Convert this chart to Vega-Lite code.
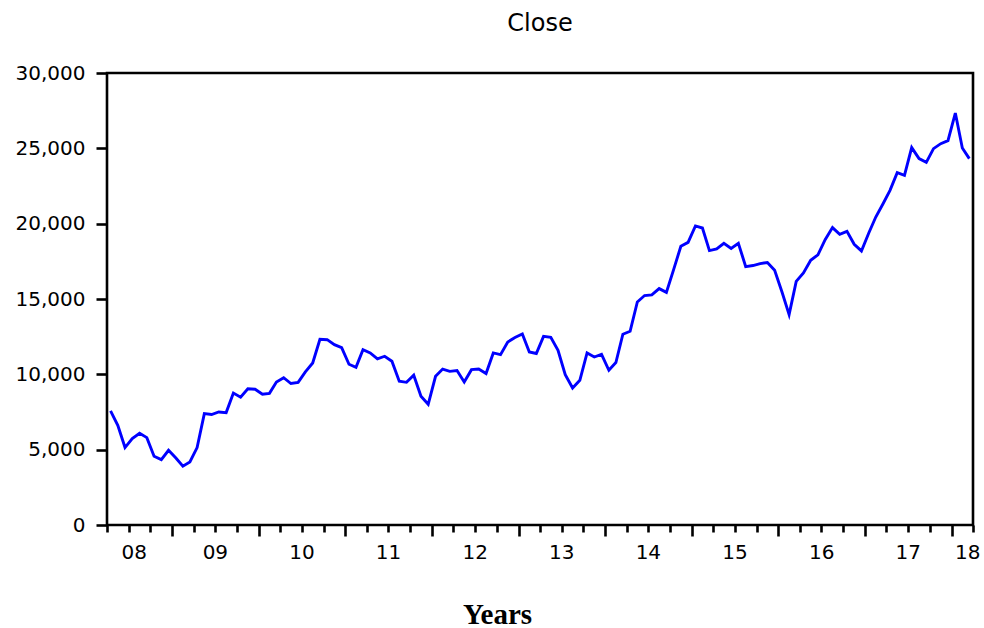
{
  "$schema": "https://vega.github.io/schema/vega-lite/v6.json",
  "width": 866,
  "height": 452,
  "autosize": "none",
  "padding": {"left": 107, "top": 73, "right": 11, "bottom": 103},
  "background": "white",
  "config": {
    "view": {"stroke": "black", "strokeWidth": 2.6},
    "axisY": {
      "format": ",.0f",
      "domain": false,
      "grid": false,
      "tickColor": "black",
      "tickWidth": 2.6,
      "tickSize": 11,
      "labelFont": "DejaVu Sans",
      "labelFontSize": 20,
      "labelColor": "black",
      "labelPadding": 11
    }
  },
  "title": {
    "text": "Close",
    "font": "DejaVu Sans",
    "fontSize": 24,
    "fontWeight": "normal",
    "color": "black",
    "anchor": "middle",
    "offset": 27
  },
  "datasets": {
    "close": [
      {"date": "2008-04", "close": 7570}, {"date": "2008-05", "close": 6620}, {"date": "2008-06", "close": 5140},
      {"date": "2008-07", "close": 5730}, {"date": "2008-08", "close": 6090}, {"date": "2008-09", "close": 5800},
      {"date": "2008-10", "close": 4560}, {"date": "2008-11", "close": 4340}, {"date": "2008-12", "close": 4960},
      {"date": "2009-01", "close": 4450}, {"date": "2009-02", "close": 3900}, {"date": "2009-03", "close": 4180},
      {"date": "2009-04", "close": 5140}, {"date": "2009-05", "close": 7390}, {"date": "2009-06", "close": 7330},
      {"date": "2009-07", "close": 7500}, {"date": "2009-08", "close": 7460}, {"date": "2009-09", "close": 8760},
      {"date": "2009-10", "close": 8480}, {"date": "2009-11", "close": 9040}, {"date": "2009-12", "close": 9010},
      {"date": "2010-01", "close": 8680}, {"date": "2010-02", "close": 8740}, {"date": "2010-03", "close": 9490},
      {"date": "2010-04", "close": 9780}, {"date": "2010-05", "close": 9390}, {"date": "2010-06", "close": 9470},
      {"date": "2010-07", "close": 10160}, {"date": "2010-08", "close": 10750}, {"date": "2010-09", "close": 12330},
      {"date": "2010-10", "close": 12300}, {"date": "2010-11", "close": 11970}, {"date": "2010-12", "close": 11770},
      {"date": "2011-01", "close": 10670}, {"date": "2011-02", "close": 10470}, {"date": "2011-03", "close": 11640},
      {"date": "2011-04", "close": 11420}, {"date": "2011-05", "close": 11020}, {"date": "2011-06", "close": 11200},
      {"date": "2011-07", "close": 10870}, {"date": "2011-08", "close": 9540}, {"date": "2011-09", "close": 9470},
      {"date": "2011-10", "close": 9940}, {"date": "2011-11", "close": 8540}, {"date": "2011-12", "close": 8010},
      {"date": "2012-01", "close": 9870}, {"date": "2012-02", "close": 10350}, {"date": "2012-03", "close": 10200},
      {"date": "2012-04", "close": 10250}, {"date": "2012-05", "close": 9490}, {"date": "2012-06", "close": 10310},
      {"date": "2012-07", "close": 10350}, {"date": "2012-08", "close": 10050}, {"date": "2012-09", "close": 11420},
      {"date": "2012-10", "close": 11310}, {"date": "2012-11", "close": 12150}, {"date": "2012-12", "close": 12440},
      {"date": "2013-01", "close": 12680}, {"date": "2013-02", "close": 11480}, {"date": "2013-03", "close": 11380},
      {"date": "2013-04", "close": 12520}, {"date": "2013-05", "close": 12460}, {"date": "2013-06", "close": 11600},
      {"date": "2013-07", "close": 9980}, {"date": "2013-08", "close": 9090}, {"date": "2013-09", "close": 9600},
      {"date": "2013-10", "close": 11420}, {"date": "2013-11", "close": 11150}, {"date": "2013-12", "close": 11330},
      {"date": "2014-01", "close": 10270}, {"date": "2014-02", "close": 10780}, {"date": "2014-03", "close": 12660},
      {"date": "2014-04", "close": 12860}, {"date": "2014-05", "close": 14800}, {"date": "2014-06", "close": 15230},
      {"date": "2014-07", "close": 15270}, {"date": "2014-08", "close": 15690}, {"date": "2014-09", "close": 15440},
      {"date": "2014-10", "close": 16950}, {"date": "2014-11", "close": 18500}, {"date": "2014-12", "close": 18760},
      {"date": "2015-01", "close": 19850}, {"date": "2015-02", "close": 19710}, {"date": "2015-03", "close": 18210},
      {"date": "2015-04", "close": 18320}, {"date": "2015-05", "close": 18700}, {"date": "2015-06", "close": 18350},
      {"date": "2015-07", "close": 18700}, {"date": "2015-08", "close": 17150}, {"date": "2015-09", "close": 17220},
      {"date": "2015-10", "close": 17350}, {"date": "2015-11", "close": 17420}, {"date": "2015-12", "close": 16900},
      {"date": "2016-01", "close": 15460}, {"date": "2016-02", "close": 13960}, {"date": "2016-03", "close": 16170},
      {"date": "2016-04", "close": 16730}, {"date": "2016-05", "close": 17570}, {"date": "2016-06", "close": 17930},
      {"date": "2016-07", "close": 18940}, {"date": "2016-08", "close": 19740}, {"date": "2016-09", "close": 19290},
      {"date": "2016-10", "close": 19490}, {"date": "2016-11", "close": 18630}, {"date": "2016-12", "close": 18190},
      {"date": "2017-01", "close": 19380}, {"date": "2017-02", "close": 20440}, {"date": "2017-03", "close": 21290},
      {"date": "2017-04", "close": 22210}, {"date": "2017-05", "close": 23390}, {"date": "2017-06", "close": 23210},
      {"date": "2017-07", "close": 25050}, {"date": "2017-08", "close": 24320}, {"date": "2017-09", "close": 24070},
      {"date": "2017-10", "close": 24980}, {"date": "2017-11", "close": 25310}, {"date": "2017-12", "close": 25510},
      {"date": "2018-01", "close": 27340}, {"date": "2018-02", "close": 25020}, {"date": "2018-03", "close": 24320}
    ],
    "years": [
      {"label": "08", "at": "2008-07-25"},
      {"label": "09", "at": "2009-07-02"},
      {"label": "10", "at": "2010-07-02"},
      {"label": "11", "at": "2011-07-02"},
      {"label": "12", "at": "2012-07-02"},
      {"label": "13", "at": "2013-07-02"},
      {"label": "14", "at": "2014-07-02"},
      {"label": "15", "at": "2015-07-02"},
      {"label": "16", "at": "2016-07-02"},
      {"label": "17", "at": "2017-07-02"},
      {"label": "18", "at": "2018-03-10"}
    ]
  },
  "layer": [
    {
      "data": {"name": "close"},
      "mark": {"type": "line", "color": "#0000ff", "strokeWidth": 2.9},
      "encoding": {
        "x": {
          "field": "date",
          "type": "temporal",
          "timeUnit": "utcyearmonth",
          "bandPosition": 0.5,
          "title": "Years",
          "scale": {
            "type": "utc",
            "nice": false,
            "domain": [
              {"year": 2008, "month": 4, "date": 1, "utc": true},
              {"year": 2018, "month": 4, "date": 1, "utc": true}
            ]
          },
          "axis": {
            "tickCount": {"interval": "month", "step": 3},
            "labels": false,
            "domain": false,
            "grid": false,
            "tickColor": "black",
            "tickWidth": 2.6,
            "tickSize": {"condition": {"test": "utcmonth(datum.value) === 0", "value": 11}, "value": 7},
            "titleFont": "Liberation Serif",
            "titleFontSize": 29,
            "titleFontWeight": "bold",
            "titleColor": "black",
            "titleAlign": "center",
            "titleBaseline": "alphabetic",
            "titleX": 390,
            "titleY": 98
          }
        },
        "y": {
          "field": "close",
          "type": "quantitative",
          "title": null,
          "scale": {"domain": [0, 30000], "nice": false},
          "axis": {
            "format": ",.0f",
            "values": [0, 5000, 10000, 15000, 20000, 25000, 30000]
          }
        }
      }
    },
    {
      "data": {"name": "years"},
      "mark": {
        "type": "text",
        "font": "DejaVu Sans",
        "fontSize": 20,
        "color": "black",
        "align": "center",
        "baseline": "middle",
        "dy": 28
      },
      "encoding": {
        "x": {"field": "at", "type": "temporal", "title": "Years", "scale": {"type": "utc"}},
        "y": {"datum": 0, "type": "quantitative", "title": null, "axis": {"format": ",.0f", "values": [0, 5000, 10000, 15000, 20000, 25000, 30000]}},
        "text": {"field": "label"}
      }
    }
  ]
}
